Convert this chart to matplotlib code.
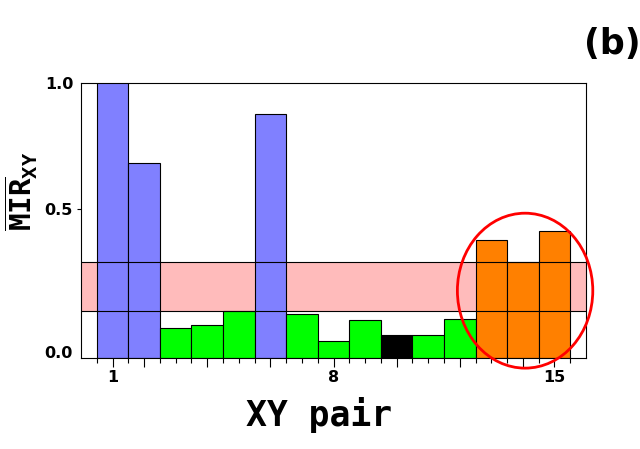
import numpy as np
import matplotlib
matplotlib.use('Agg')
import matplotlib.pyplot as plt
from matplotlib.patches import Ellipse

plt.rcParams['mathtext.fontset'] = 'custom'
plt.rcParams['mathtext.tt'] = 'DejaVu Sans Mono:bold'

# data
pairs = np.arange(1, 16)
mir = [1.0, 0.653, 0.100, 0.110, 0.158, 0.819, 0.147, 0.056,
       0.127, 0.076, 0.076, 0.131, 0.395, 0.321, 0.425]
groups = ['A', 'A', 'B', 'B', 'B', 'A', 'B', 'B',
          'B', 'C', 'B', 'B', 'D', 'D', 'D']
band_lo, band_hi = 0.157, 0.321
xtick_pos = [1, 8, 15]
xtick_lab = ['1', '8', '15']
ytick_lab = ['0.0', '0.5', '1.0']

group_col = {'A': '#8080FF', 'B': '#00FF00', 'C': '#000000', 'D': '#FF8000'}
ytop = 0.924

fig = plt.figure(figsize=(6.4, 4.49), dpi=100)
ax = fig.add_axes([81/640, 1-358/449, 505/640, 275.3/449])

# shaded band behind the bars, edge lines on top
ax.axhspan(band_lo, band_hi, color='#FFBBBB', lw=0, zorder=1)
ax.bar(pairs, mir, width=1.0, color=[group_col[g] for g in groups],
       edgecolor='black', linewidth=0.8, zorder=2)
for yb in (band_lo, band_hi):
    ax.axhline(yb, color='black', lw=0.8, zorder=3)

ax.set_xlim(0, 16)
ax.set_ylim(0, ytop)

# x ticks: long at a few positions, short at every half step
major = [1, 2, 4, 6, 8, 10, 12, 14, 15]
ax.set_xticks(major)
ax.set_xticklabels([xtick_lab[xtick_pos.index(m)] if m in xtick_pos else ''
                    for m in major])
ax.set_xticks([m for m in np.arange(0.5, 16, 0.5) if m not in major], minor=True)
ax.tick_params(axis='x', which='major', length=6.5, width=0.8, direction='out', pad=2)
ax.tick_params(axis='x', which='minor', length=3.6, width=0.8, direction='out')

ax.set_yticks([0, 0.5, ytop])
ax.set_yticklabels(ytick_lab)
ax.tick_params(axis='y', length=3.2, width=0.8, pad=2.5)
yt = ax.yaxis.get_major_ticks()
yt[0].tick1line.set_visible(False)
yt[2].tick1line.set_visible(False)
yt[0].label1.set_va('baseline')

for lab in ax.get_xticklabels() + ax.get_yticklabels():
    lab.set_fontsize(11.5)
    lab.set_fontweight('bold')

for s in ax.spines.values():
    s.set_linewidth(0.8)

# red ellipse around the last three pairs
ax.add_patch(Ellipse((14.07, 0.226), 4.29, 0.52, fill=False,
                     edgecolor='red', lw=2, zorder=5, clip_on=False))

fig.text(319/640, 1-425.7/449, 'XY pair', family='DejaVu Sans Mono',
         fontweight='bold', fontsize=25, ha='center', va='baseline')
fig.text(3/640, 1-191.5/449, r'$\overline{\mathtt{MIR}}_{\mathtt{XY}}$',
         fontsize=21, rotation=90, ha='left', va='center')
fig.text(584/640, 1-44/449, '(b)', fontsize=25, fontweight='heavy',
         ha='left', va='center')

fig.savefig('out.png', dpi=100)
